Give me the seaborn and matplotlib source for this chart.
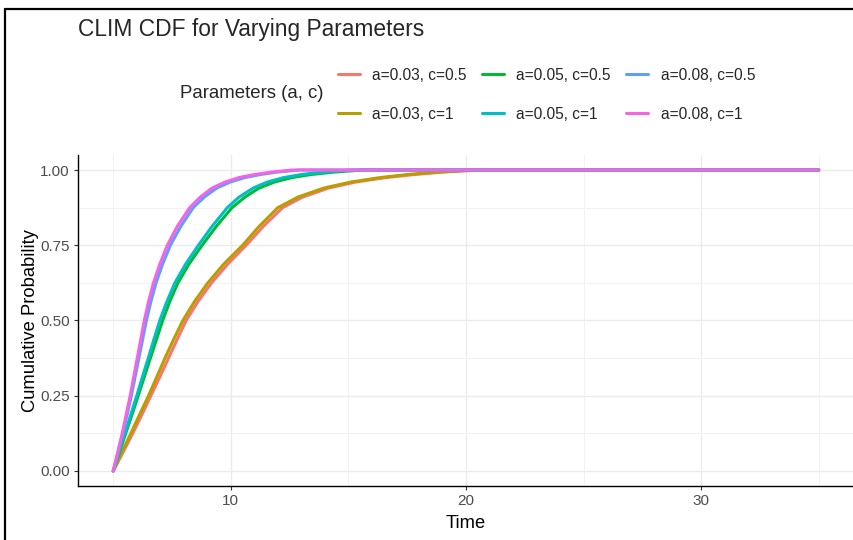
#%% bibliotecas
import numpy as np
import pandas as pd
import seaborn as sns
import matplotlib.pyplot as plt
from matplotlib.lines import Line2D
from matplotlib.ticker import MultipleLocator

#%% dados (CDF empírica, pontos ao longo da curva)
labels = ["a=0.03, c=0.5", "a=0.03, c=1", "a=0.05, c=0.5",
          "a=0.05, c=1", "a=0.08, c=0.5", "a=0.08, c=1"]
colors = ["#F8766D", "#B79F00", "#00BA38", "#00BFC4", "#619CFF", "#F564E3"]

# níveis de probabilidade em que os tempos foram lidos (+ patamar até t=35)
p_levels = [0, 0.0625, 0.125, 0.1875, 0.25, 0.3125, 0.375, 0.4375, 0.5,
            0.5625, 0.625, 0.6875, 0.75, 0.8125, 0.875, 0.91, 0.94, 0.96,
            0.975, 0.985, 0.993, 1.0, 1.0]

t_a03_c05 = [5.0, 5.42, 5.83, 6.22, 6.6, 6.98, 7.35, 7.72, 8.1, 8.6, 9.18, 9.87,
             10.65, 11.38, 12.2, 13.05, 14.15, 15.3, 16.6, 17.8, 19.0, 20.6, 35]
t_a03_c1 = [5.0, 5.37, 5.75, 6.12, 6.5, 6.85, 7.2, 7.57, 7.96, 8.45, 9.02, 9.7,
            10.5, 11.2, 12.0, 12.85, 13.95, 15.1, 16.35, 17.5, 18.7, 20.2, 35]
t_a05_c05 = [5.0, 5.27, 5.53, 5.8, 6.06, 6.32, 6.58, 6.84, 7.1, 7.4, 7.75, 8.22,
             8.78, 9.38, 10.05, 10.6, 11.2, 11.85, 12.6, 13.4, 14.35, 15.6, 35]
t_a05_c1 = [5.0, 5.25, 5.5, 5.75, 6.0, 6.24, 6.49, 6.73, 6.98, 7.28, 7.62, 8.08,
            8.62, 9.2, 9.85, 10.35, 10.95, 11.55, 12.25, 13.0, 13.9, 15.1, 35]
t_a08_c05 = [5.0, 5.21, 5.41, 5.59, 5.77, 5.93, 6.09, 6.25, 6.41, 6.6, 6.82, 7.1,
             7.43, 7.87, 8.4, 8.87, 9.4, 9.97, 10.6, 11.25, 11.95, 12.9, 35]
t_a08_c1 = [5.0, 5.19, 5.38, 5.55, 5.72, 5.87, 6.02, 6.17, 6.32, 6.5, 6.71, 6.98,
            7.3, 7.72, 8.25, 8.7, 9.2, 9.75, 10.35, 11.0, 11.7, 12.6, 35]

series_t = [t_a03_c05, t_a03_c1, t_a05_c05, t_a05_c1, t_a08_c05, t_a08_c1]

df = pd.concat([pd.DataFrame({"Time": t, "Prob": p_levels, "Parameters": lab})
                for t, lab in zip(series_t, labels)],
               ignore_index=True)

#%% gráfico
sns.set_theme(style="whitegrid")
plt.rcParams['font.family'] = ['Liberation Sans', 'DejaVu Sans']

fig = plt.figure(figsize=(8.54, 5.4), dpi=100)
ax = fig.add_axes([0.0913, 0.1, 0.9087, 0.613])

sns.lineplot(data=df, x="Time", y="Prob", hue="Parameters",
             hue_order=labels, palette=colors, linewidth=2.2,
             sort=False, estimator=None, legend=False, ax=ax)

ax.set_xlim(3.5, 36.5)
ax.set_ylim(-0.05, 1.05)
ax.set_xticks([10, 20, 30])
ax.xaxis.set_minor_locator(MultipleLocator(5))
ax.set_yticks([0, 0.25, 0.5, 0.75, 1.0])
ax.set_yticklabels(["0.00", "0.25", "0.50", "0.75", "1.00"])
ax.yaxis.set_minor_locator(MultipleLocator(0.125))

ax.grid(which="major", color="#EBEBEB", linewidth=1.0)
ax.grid(which="minor", color="#F2F2F2", linewidth=0.7)
ax.set_axisbelow(True)
for s in ["top", "right"]:
    ax.spines[s].set_visible(False)
for s in ["left", "bottom"]:
    ax.spines[s].set_visible(True)
    ax.spines[s].set_color("black")
    ax.spines[s].set_linewidth(1.0)
ax.tick_params(axis="both", which="major", length=3, width=0.8,
               color="#333333", labelsize=11, labelcolor="#4D4D4D", pad=3)
ax.tick_params(which="minor", length=0)
ax.tick_params(axis="x", bottom=True)
ax.tick_params(axis="y", left=True)

ax.set_xlabel("Time", fontsize=13.2, color="black", labelpad=5)
ax.set_ylabel("Cumulative Probability", fontsize=13.2, color="black", labelpad=1)

fig.text(0.0913, 0.945, "CLIM CDF for Varying Parameters", fontsize=16.4,
         ha="left", va="center")

# legenda no topo
fig.text(180 / 854, 1 - 94 / 540, "Parameters (a, c)", fontsize=13.4,
         ha="left", va="center")
handles = [Line2D([0], [0], color=c, linewidth=2.2) for c in colors]
fig.legend(handles, labels, ncol=3, loc="upper left",
           bbox_to_anchor=(330 / 854, 1 - 60 / 540), frameon=False,
           fontsize=11.2, handlelength=1.4, handletextpad=0.8,
           columnspacing=1.0, labelspacing=1.55, borderpad=0)

# moldura do screenshot (esquerda e topo)
fig.add_artist(Line2D([5.5 / 854, 5.5 / 854], [0, 1 - 8.5 / 540],
                      color="black", linewidth=1.6))
fig.add_artist(Line2D([5.5 / 854, 1], [1 - 8.5 / 540, 1 - 8.5 / 540],
                      color="black", linewidth=1.6))

fig.savefig("out.png", dpi=100)
